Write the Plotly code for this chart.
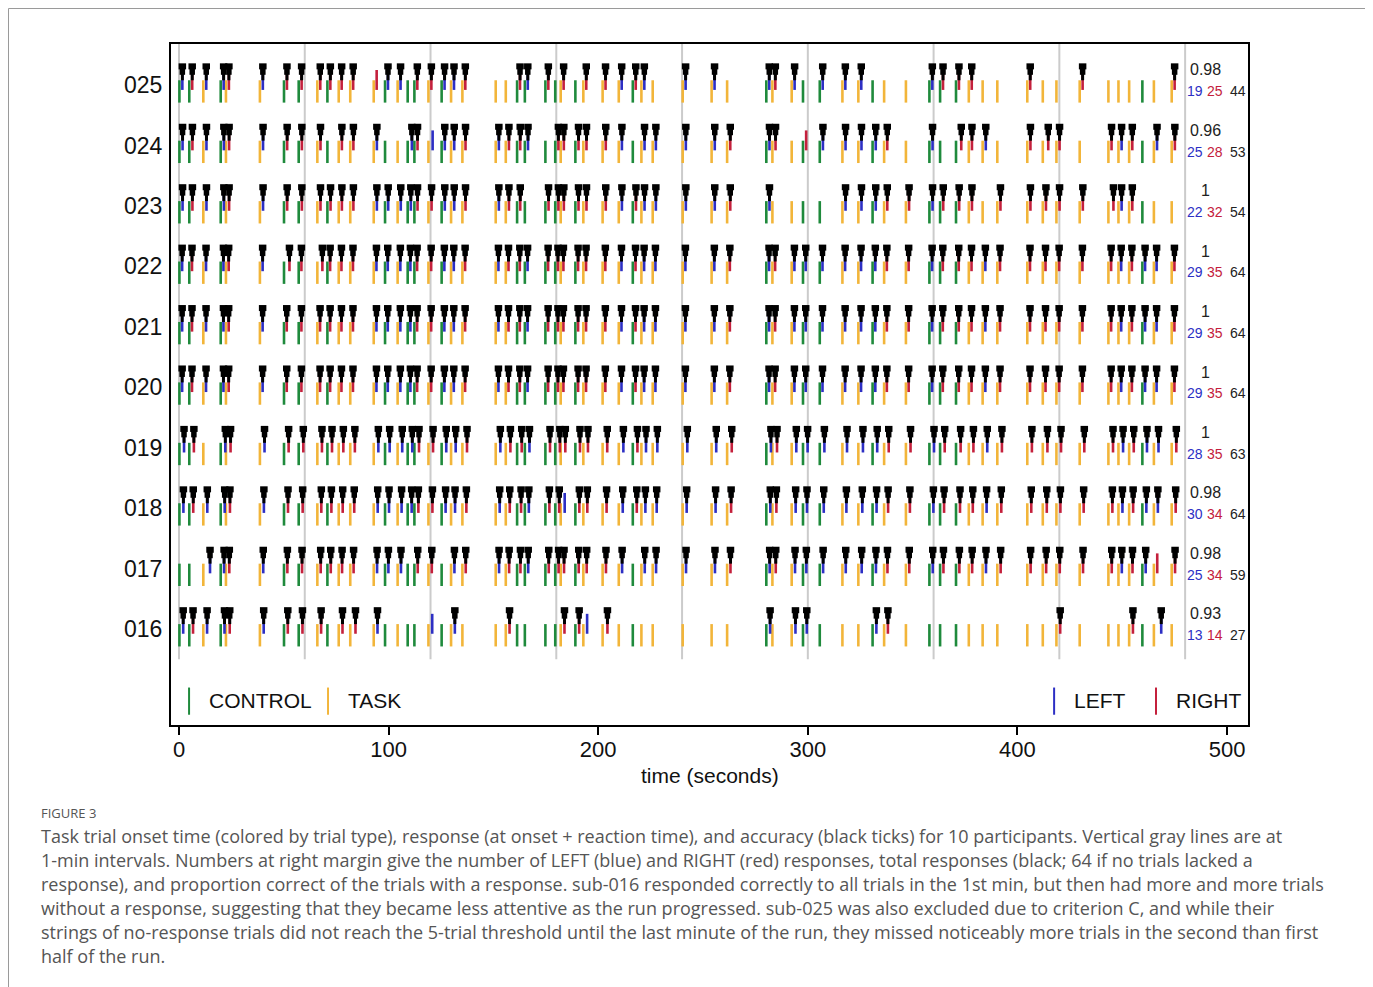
import plotly.graph_objects as go

# ---------------- data ----------------
participants = ["016", "017", "018", "019", "020", "021", "022", "023", "024", "025"]

onset_times = [0.2, 4.9, 11.6, 19.9, 22.4, 38.6, 50.1, 57.1, 66.0, 70.8, 76.2,
               81.7, 92.9, 98.3, 104.3, 109.1, 112.3, 119.0, 125.3, 129.8, 135.2, 151.1, 155.9, 161.3,
               165.0, 174.8, 179.5, 182.1, 189.1, 192.9, 202.1, 209.8, 216.5, 220.6, 226.0, 240.3,
               254.1, 261.5, 280.2, 283.1, 292.3, 297.7, 305.7, 316.5, 324.1, 330.9,
               336.4, 346.8, 358.0, 363.1, 370.7, 376.8, 383.4, 390.4, 404.7, 412.1,
               418.6, 429.7, 443.4, 448.2, 453.3, 459.6, 465.1, 473.6]

# C = CONTROL, T = TASK
trial_types = "CCTCTTCCTCT" "TTCTCCTCTTTTC" "CCCTCTTTCTTT" "TTCTTCCTTC" "TTCCCTTTTT" "TTTTTCTT"

# response per trial: L/R correct, l/r incorrect, . no response
responses = {
    "025": "LRLLRLRR" "RRRRrLL." "RRLLR..R" "LR.R.RRL" "RL.LL.LR" "L.LLL..." "LRRR..R." ".R.....R",
    "024": "LRLLRLRR" "R.RRL..L" "RlLLRLRR" "L.RRRRRL" ".LLLLRLR" ".rLLLLR." "L.RRL.RR" "R.RLR.LR",
    "023": "LRLLRLRR" "RRRRLLLL" "RRLLRLRR" ".RRRRRRL" "RLLLLRL." "...LLLRR" "LRRR.RRR" "RRRLR...",
    "022": "LRLLRLRR" "RRRRLLLL" "RRLLRLRR" "LRRRRRRL" "RLLLLRLR" "LLLLLLRR" "LRRRLRRR" "RRRLRLLR",
    "021": "LRLLRLRR" "RRRRLLLL" "RRLLRLRR" "LRRRRRRL" "RLLLLRLR" "LLLLLLRR" "LRRRLRRR" "RRRLRLLR",
    "020": "LRLLRLRR" "RRRRLLLL" "RRLLRLRR" "LRRRRRRL" "RLLLLRLR" "LLLLLLRR" "LRRRLRRR" "RRRLRLLR",
    "019": "LR.LRLRR" "RRRRLLLL" "RRLLRLRR" "LRRRRRRL" "RLLLLRLR" "LLLLLLRR" "LRRRLRRR" "RRRLRLLR",
    "018": "LRLLRLRR" "RRRRLLLL" "RRLLRLRR" "LRRlRRRL" "RLLLLRLR" "LLLLLLRR" "LRRRLRRR" "RRRLRLLR",
    "017": "..LLRLRR" "RRRRLLL." "RR.LRLRR" "LRRRRRRL" ".LLLLRLR" "LLLLLLRR" "LRRRLRRR" "RRRLRLrR",
    "016": "LRLLRLRR" "R.RRL..." ".l.L..R." "...RRlR." "......L." "LL...LR." "........" "R...R.L.",
}

# typical reaction time (s) per participant, read from the gap onset -> response
rt_typical = {"025": 1.4, "024": 1.5, "023": 1.5, "022": 1.3, "021": 1.3,
              "020": 1.3, "019": 2.2, "018": 1.9, "017": 1.6, "016": 1.8}
# visibly slower single responses (participant, trial number) -> rt
rt_slow = {("016", 12): 2.5, ("016", 31): 2.3, ("016", 63): 3.5, ("017", 3): 3.2,
           ("023", 59): 2.4, ("024", 16): 2.0, ("024", 18): 2.0, ("024", 51): 2.5,
           ("024", 56): 2.6, ("022", 7): 2.6, ("022", 9): 2.4}

# right margin summary: proportion correct, LEFT, RIGHT, total
prop_correct = {"025": "0.98", "024": "0.96", "023": "1", "022": "1", "021": "1",
                "020": "1", "019": "1", "018": "0.98", "017": "0.98", "016": "0.93"}
n_left = {"025": 19, "024": 25, "023": 22, "022": 29, "021": 29, "020": 29,
          "019": 28, "018": 30, "017": 25, "016": 13}
n_right = {"025": 25, "024": 28, "023": 32, "022": 35, "021": 35, "020": 35,
           "019": 35, "018": 34, "017": 34, "016": 14}
n_total = {"025": 44, "024": 53, "023": 54, "022": 64, "021": 64, "020": 64,
           "019": 63, "018": 64, "017": 59, "016": 27}

minute_lines = [0, 60, 120, 180, 240, 300, 360, 420, 480]
x_ticks = [0, 100, 200, 300, 400, 500]

# ---------------- styling ----------------
C_CONTROL = "#1f8a3c"
C_TASK = "#f2b53a"
C_LEFT = "#2d2fc4"
C_RIGHT = "#c4203c"
C_GRAY = "#cbcbcb"
FONT = "Arial, Liberation Sans, sans-serif"
CAP_FONT = "Open Sans, Lato, sans-serif"

fig = go.Figure()


def seg_trace(xs, y0s, y1s, color, width):
    X, Y = [], []
    for x, a, b in zip(xs, y0s, y1s):
        X += [x, x, None]
        Y += [a, b, None]
    fig.add_trace(go.Scatter(x=X, y=Y, mode="lines", line=dict(color=color, width=width),
                             hoverinfo="skip", showlegend=False))


# minute grid lines
seg_trace(minute_lines, [-0.5] * len(minute_lines), [9.7] * len(minute_lines), C_GRAY, 2)

onset_c = ([], [], [])
onset_t = ([], [], [])
resp_l = ([], [], [])
resp_r = ([], [], [])
blk = ([], [])

for ri, p in enumerate(participants):
    for ti, (t, typ, resp) in enumerate(zip(onset_times, trial_types, responses[p])):
        tgt = onset_c if typ == "C" else onset_t
        tgt[0].append(t); tgt[1].append(ri - 0.29); tgt[2].append(ri + 0.08)
        if resp == ".":
            continue
        rt = rt_slow.get((p, ti + 1), rt_typical[p])
        xr = t + rt
        rtgt = resp_l if resp in "Ll" else resp_r
        rtgt[0].append(xr); rtgt[1].append(ri - 0.08); rtgt[2].append(ri + 0.25)
        if resp.isupper():
            blk[0].append(xr); blk[1].append(ri)

seg_trace(*onset_c, C_CONTROL, 2.6)
seg_trace(*onset_t, C_TASK, 2.6)
seg_trace(*resp_l, C_LEFT, 2.6)
seg_trace(*resp_r, C_RIGHT, 2.6)
# black accuracy ticks (tapered)
seg_trace(blk[0], [y + 0.08 for y in blk[1]], [y + 0.20 for y in blk[1]], "black", 3)
seg_trace(blk[0], [y + 0.17 for y in blk[1]], [y + 0.29 for y in blk[1]], "black", 5.5)
seg_trace(blk[0], [y + 0.26 for y in blk[1]], [y + 0.36 for y in blk[1]], "black", 7.5)

# legend marks inside the box
legend_items = [("CONTROL", C_CONTROL, 4.8), ("TASK", C_TASK, 71.1),
                ("LEFT", C_LEFT, 417.5), ("RIGHT", C_RIGHT, 466.1)]
for name, col, xl in legend_items:
    seg_trace([xl], [-1.42], [-0.97], col, 2)

annotations = []
for name, col, xl in legend_items:
    annotations.append(dict(x=xl + 8.5, y=-1.19, xref="x", yref="y", text=name, showarrow=False,
                            xanchor="left", yanchor="middle",
                            font=dict(family=FONT, size=21, color="#111")))

# right margin numbers
for ri, p in enumerate(participants):
    annotations.append(dict(x=489.9, y=ri + 0.25, xref="x", yref="y", text=prop_correct[p],
                            showarrow=False, xanchor="center", yanchor="middle",
                            font=dict(family=FONT, size=16, color="#222")))
    annotations.append(dict(x=484.9, y=ri - 0.10, xref="x", yref="y", text=str(n_left[p]),
                            showarrow=False, xanchor="center", yanchor="middle",
                            font=dict(family=FONT, size=14, color=C_LEFT)))
    annotations.append(dict(x=494.2, y=ri - 0.10, xref="x", yref="y", text=str(n_right[p]),
                            showarrow=False, xanchor="center", yanchor="middle",
                            font=dict(family=FONT, size=14, color=C_RIGHT)))
    annotations.append(dict(x=505.0, y=ri - 0.10, xref="x", yref="y", text=str(n_total[p]),
                            showarrow=False, xanchor="center", yanchor="middle",
                            font=dict(family=FONT, size=14, color="#222")))

# axis title
annotations.append(dict(x=0.5, y=(725 - 776) / 681, xref="paper", yref="paper",
                        text="time (seconds)", showarrow=False, xanchor="center", yanchor="middle",
                        font=dict(family=FONT, size=21, color="#111")))

# caption
caption_lines = [
    "Task trial onset time (colored by trial type), response (at onset + reaction time), and accuracy (black ticks) for 10 participants. Vertical gray lines are at",
    "1-min intervals. Numbers at right margin give the number of LEFT (blue) and RIGHT (red) responses, total responses (black; 64 if no trials lacked a",
    "response), and proportion correct of the trials with a response. sub-016 responded correctly to all trials in the 1st min, but then had more and more trials",
    "without a response, suggesting that they became less attentive as the run progressed. sub-025 was also excluded due to criterion C, and while their",
    "strings of no-response trials did not reach the 5-trial threshold until the last minute of the run, they missed noticeably more trials in the second than first",
    "half of the run.",
]
W, H0 = 1077, 681
px = lambda x: (x - 171) / W   # page pixel -> paper fraction
py = lambda y: (725 - y) / H0
annotations.append(dict(x=px(39), y=py(813), xref="paper", yref="paper", text="FIGURE 3",
                        showarrow=False, xanchor="left", yanchor="middle",
                        font=dict(family=CAP_FONT, size=13, color="#555")))
for i, line in enumerate(caption_lines):
    annotations.append(dict(x=px(39), y=py(836 + 24 * i), xref="paper", yref="paper", text=line,
                            showarrow=False, xanchor="left", yanchor="middle",
                            font=dict(family=CAP_FONT, size=18, color="#555")))

shapes = [dict(type="rect", xref="paper", yref="paper", x0=px(8.5), x1=px(1367), y0=py(1000), y1=py(8.5),
               line=dict(color="#9a9a9a", width=1), fillcolor="rgba(0,0,0,0)", layer="below")]

# the page adds an 8px body margin, so the figure is drawn 8px smaller and shifted
fig.update_layout(
    width=1365, height=979,
    margin=dict(l=163, r=125, t=36, b=262, autoexpand=False),
    paper_bgcolor="white", plot_bgcolor="white",
    showlegend=False,
    annotations=annotations, shapes=shapes,
    xaxis=dict(range=[-3.817, 510.0], tickvals=x_ticks, ticks="outside", ticklen=8, tickwidth=1.5,
               tickcolor="black", tickfont=dict(family=FONT, size=22, color="#111"),
               ticklabelstandoff=-4,
               showline=True, linecolor="black", linewidth=2, mirror=True,
               showgrid=False, zeroline=False),
    yaxis=dict(range=[-1.59, 9.68], tickvals=list(range(len(participants))), ticktext=participants,
               ticks="outside", ticklen=2, tickcolor="rgba(0,0,0,0)",
               tickfont=dict(family=FONT, size=23, color="#111"),
               showline=True, linecolor="black", linewidth=2, mirror=True,
               showgrid=False, zeroline=False),
)

fig.write_html("out.html")
